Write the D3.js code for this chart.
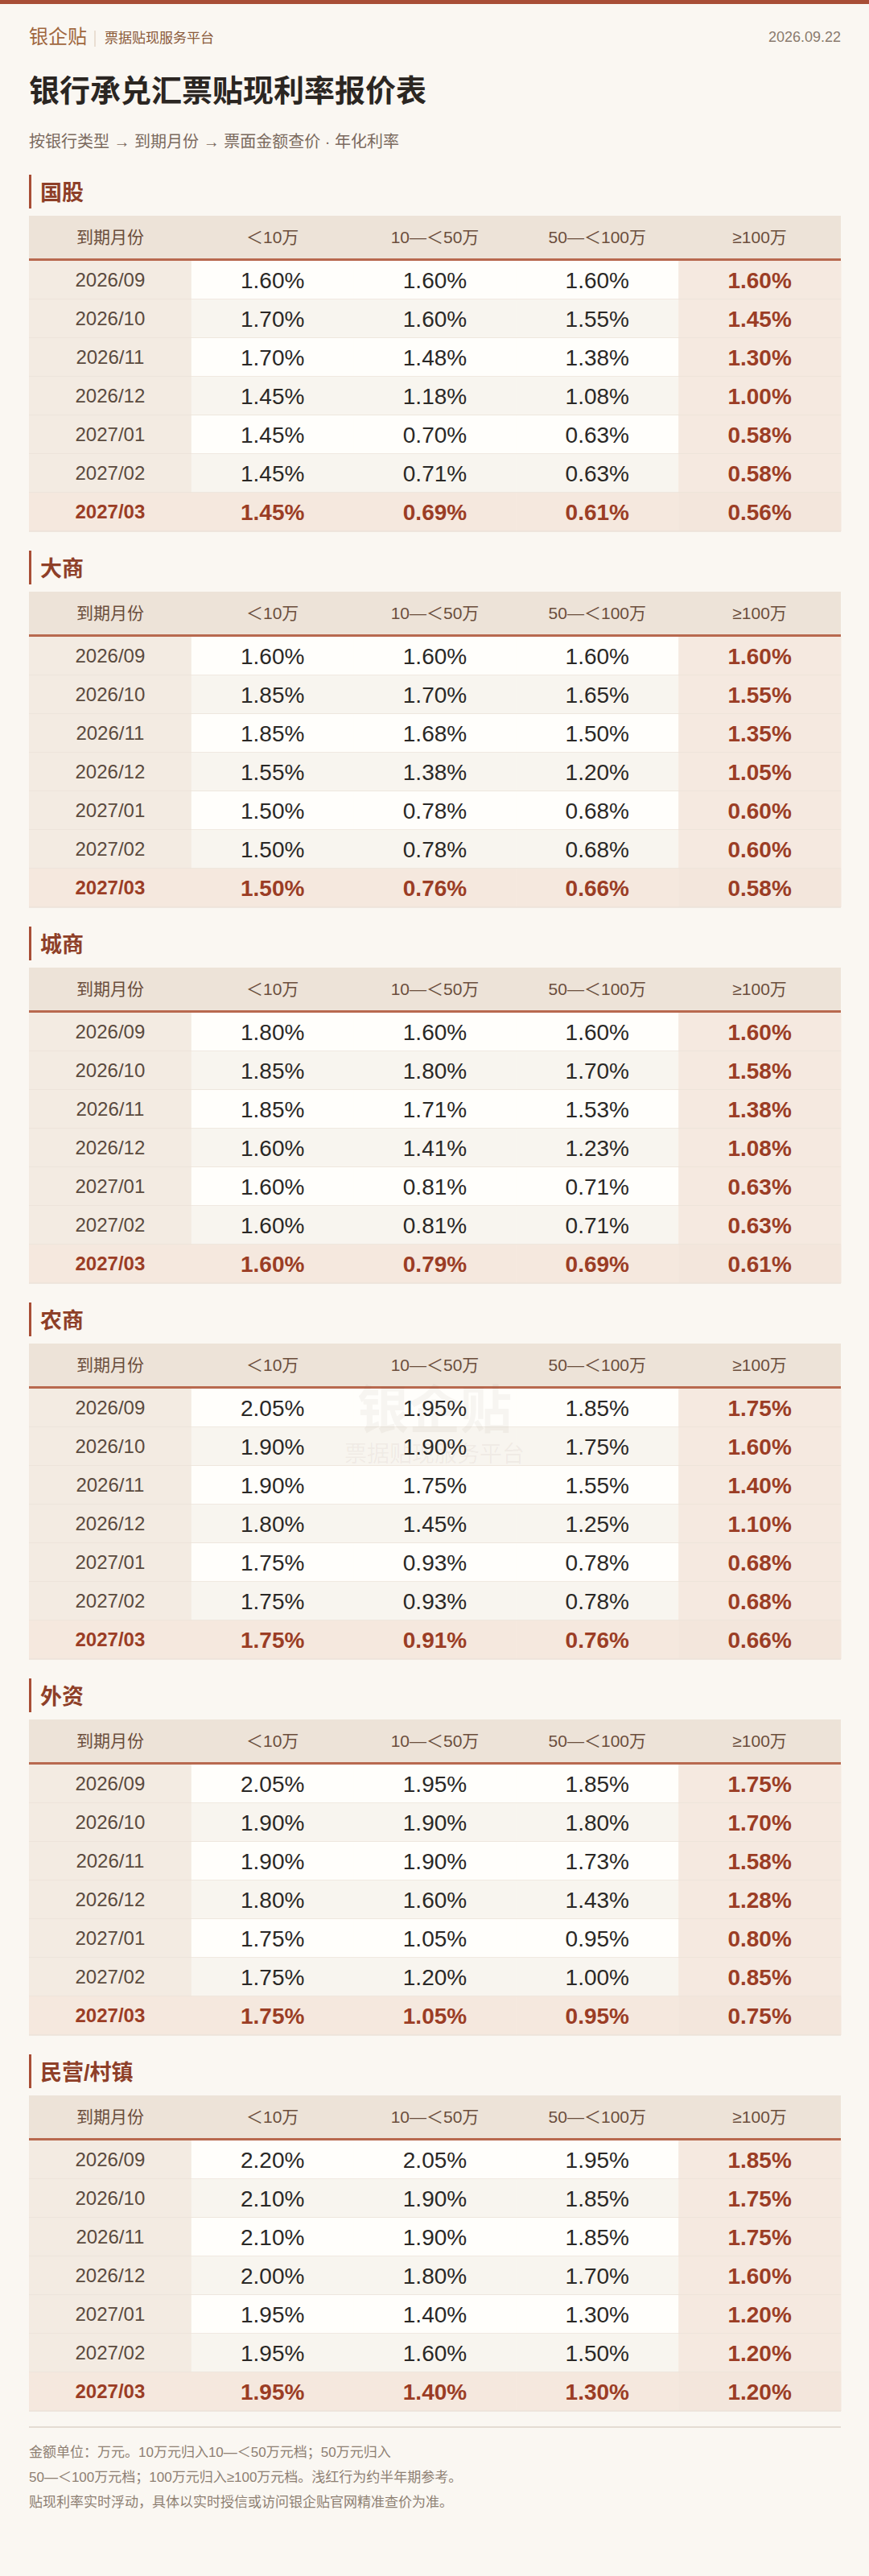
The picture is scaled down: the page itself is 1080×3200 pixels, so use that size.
<!DOCTYPE html>
<html><head><meta charset="utf-8">
<script src="https://cdn.jsdelivr.net/npm/d3@7"></script>
<style>html,body{margin:0;padding:0;background:#faf7f2;}</style>
</head><body><svg id="c" width="1080" height="3200"></svg>
<script>
const months = ["2026/09","2026/10","2026/11","2026/12","2027/01","2027/02","2027/03"];
const columns = ["到期月份","＜10万","10—＜50万","50—＜100万","≥100万"];
const bankTypes = ["国股","大商","城商","农商","外资","民营/村镇"];
const guogu   = [[1.60,1.60,1.60,1.60],[1.70,1.60,1.55,1.45],[1.70,1.48,1.38,1.30],[1.45,1.18,1.08,1.00],[1.45,0.70,0.63,0.58],[1.45,0.71,0.63,0.58],[1.45,0.69,0.61,0.56]];
const dashang = [[1.60,1.60,1.60,1.60],[1.85,1.70,1.65,1.55],[1.85,1.68,1.50,1.35],[1.55,1.38,1.20,1.05],[1.50,0.78,0.68,0.60],[1.50,0.78,0.68,0.60],[1.50,0.76,0.66,0.58]];
const chengshang = [[1.80,1.60,1.60,1.60],[1.85,1.80,1.70,1.58],[1.85,1.71,1.53,1.38],[1.60,1.41,1.23,1.08],[1.60,0.81,0.71,0.63],[1.60,0.81,0.71,0.63],[1.60,0.79,0.69,0.61]];
const nongshang = [[2.05,1.95,1.85,1.75],[1.90,1.90,1.75,1.60],[1.90,1.75,1.55,1.40],[1.80,1.45,1.25,1.10],[1.75,0.93,0.78,0.68],[1.75,0.93,0.78,0.68],[1.75,0.91,0.76,0.66]];
const waizi = [[2.05,1.95,1.85,1.75],[1.90,1.90,1.80,1.70],[1.90,1.90,1.73,1.58],[1.80,1.60,1.43,1.28],[1.75,1.05,0.95,0.80],[1.75,1.20,1.00,0.85],[1.75,1.05,0.95,0.75]];
const minying = [[2.20,2.05,1.95,1.85],[2.10,1.90,1.85,1.75],[2.10,1.90,1.85,1.75],[2.00,1.80,1.70,1.60],[1.95,1.40,1.30,1.20],[1.95,1.60,1.50,1.20],[1.95,1.40,1.30,1.20]];
const tables = [guogu,dashang,chengshang,nongshang,waizi,minying];
const footnotes = ["金额单位：万元。10万元归入10—＜50万元档；50万元归入","50—＜100万元档；100万元归入≥100万元档。浅红行为约半年期参考。","贴现利率实时浮动，具体以实时授信或访问银企贴官网精准查价为准。"];

const svg = d3.select("#c");
const F = "'Liberation Sans','Noto Sans CJK SC',sans-serif";
const L = 36, R = 1045;
svg.append("rect").attr("width",1080).attr("height",3200).attr("fill","#faf7f2");
svg.append("rect").attr("width",1080).attr("height",5).attr("fill","#a84e36");
svg.append("text").attr("x",L).attr("y",54).attr("font-family",F).attr("font-size",24).attr("fill","#a0673f").text("银企贴");
svg.append("line").attr("x1",118).attr("x2",118).attr("y1",38).attr("y2",58).attr("stroke","#d9c6b3");
svg.append("text").attr("x",130).attr("y",53).attr("font-family",F).attr("font-size",17).attr("fill","#8a5a3a").text("票据贴现服务平台");
svg.append("text").attr("x",R).attr("y",52).attr("text-anchor","end").attr("font-family",F).attr("font-size",18).attr("fill","#8a7b6e").text("2026.09.22");
svg.append("text").attr("x",L).attr("y",126).attr("font-family",F).attr("font-size",38).attr("font-weight","bold").attr("fill","#2b2622").text("银行承兑汇票贴现利率报价表");
svg.append("text").attr("x",L).attr("y",183).attr("font-family",F).attr("font-size",20).attr("fill","#7a6a5e").text("按银行类型 → 到期月份 → 票面金额查价 · 年化利率");

const x = d3.scaleBand().domain(d3.range(5)).range([L,R]);
const rowH = 48, headH = 54, period = 467, top0 = 268;

tables.forEach((data,t)=>{
  const g = svg.append("g").attr("transform",`translate(0,${top0+t*period})`);
  g.append("rect").attr("x",L).attr("y",-51).attr("width",3).attr("height",42).attr("fill","#a84e36");
  g.append("text").attr("x",L+14).attr("y",-19).attr("font-family",F).attr("font-size",27).attr("font-weight","bold").attr("fill","#8e3f28").text(bankTypes[t]);
  g.append("rect").attr("x",L).attr("y",0).attr("width",R-L).attr("height",headH).attr("fill","#ede3d8");
  columns.forEach((c,i)=>g.append("text").attr("x",x(i)+x.bandwidth()/2).attr("y",headH/2+7).attr("text-anchor","middle").attr("font-family",F).attr("font-size",21).attr("fill","#6b4e3c").text(c));
  const y = d3.scaleBand().domain(d3.range(months.length)).range([headH+2, headH+2+rowH*months.length]);
  months.forEach((m,r)=>{
    const last = r===months.length-1;
    for(let i=0;i<5;i++){
      let fill;
      if(last) fill = i===4 ? "#f3e6dc" : "#f5e8de";
      else if(i===0) fill = "#f3ebe2";
      else if(i===4) fill = "#f5e9e0";
      else fill = r%2===0 ? "#fffefb" : "#f8f5ef";
      g.append("rect").attr("x",x(i)).attr("y",y(r)).attr("width",x.bandwidth()+0.5).attr("height",rowH).attr("fill",fill);
    }
    g.append("line").attr("x1",L).attr("x2",R).attr("y1",y(r)+rowH).attr("y2",y(r)+rowH).attr("stroke","#ebe2d8").attr("stroke-width",1.5);
    g.append("text").attr("x",x(0)+x.bandwidth()/2).attr("y",y(r)+rowH/2+8).attr("text-anchor","middle").attr("font-family",F).attr("font-size",24)
      .attr("font-weight",last?"bold":"normal").attr("fill",last?"#9b3d25":"#5a4a3e").text(m);
    data[r].forEach((v,i)=>{
      const red = last || i===3;
      g.append("text").attr("x",x(i+1)+x.bandwidth()/2).attr("y",y(r)+rowH/2+10).attr("text-anchor","middle").attr("font-family",F).attr("font-size",28)
        .attr("font-weight",red?"bold":"normal").attr("fill",red?"#9b3d25":"#2a2826").text(v.toFixed(2)+"%");
    });
  });
  g.append("rect").attr("x",L).attr("y",headH-1).attr("width",R-L).attr("height",3).attr("fill","#b8694f");
  if(t===3){
    g.append("text").attr("x",540).attr("y",105).attr("text-anchor","middle").attr("font-family",F).attr("font-size",64).attr("font-weight","bold").attr("fill","rgba(120,100,80,0.06)").text("银企贴");
    g.append("text").attr("x",540).attr("y",147).attr("text-anchor","middle").attr("font-family",F).attr("font-size",28).attr("fill","rgba(120,100,80,0.07)").text("票据贴现服务平台");
  }
});
svg.append("line").attr("x1",L).attr("x2",R).attr("y1",3015).attr("y2",3015).attr("stroke","#dcd3c8").attr("stroke-width",1.5);
footnotes.forEach((s,i)=>svg.append("text").attr("x",L).attr("y",3052+i*31).attr("font-family",F).attr("font-size",17).attr("fill","#8e7f72").text(s));
</script></body></html>
